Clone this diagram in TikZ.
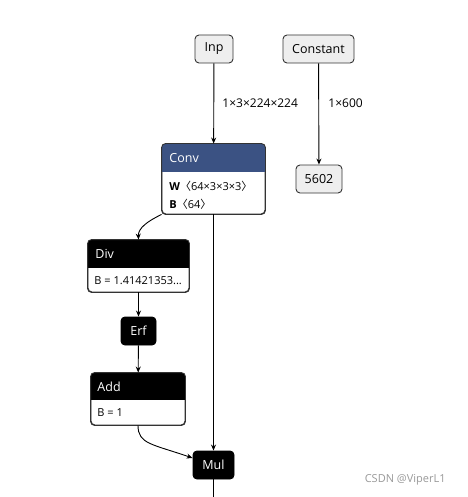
\documentclass[tikz,border=0pt]{standalone}
\usepackage{fontspec}
\setmainfont{Open Sans}
\newfontfamily\cjk{Noto Sans CJK SC}
\usetikzlibrary{arrows.meta}

\definecolor{convblue}{RGB}{59,82,131}
\definecolor{boxgray}{RGB}{238,238,238}

\begin{document}
\begin{tikzpicture}[x=1pt,y=-1pt,
  line width=0.9pt,
  edge/.style={-{Stealth[length=6pt,width=5pt,inset=2pt]}},
  plain/.style={draw=black!80, fill=boxgray, rounded corners=4pt, minimum height=28pt, inner sep=0pt, font=\fontsize{12.5}{14}\selectfont},
  blackbox/.style={draw=black, fill=black, text=white, rounded corners=4pt, minimum height=28pt, inner sep=0pt, font=\fontsize{12.5}{14}\selectfont},
  frame/.style={draw=black!80, fill=white, rounded corners=4pt, inner sep=0pt},
  head/.style={anchor=west, text=white, inner sep=0pt, font=\fontsize{12.5}{14}\selectfont},
  attr/.style={anchor=west, inner sep=0pt, font=\fontsize{11}{12}\selectfont},
  dims/.style={anchor=west, inner sep=0pt, font=\fontsize{12}{13}\selectfont}]
\useasboundingbox (0,0) rectangle (467,497);

% inputs
\node[plain, minimum width=38pt] (inp) at (214,49) {Inp};
\node[plain, minimum width=71pt] (const) at (318.5,49) {Constant};
\node[plain, minimum width=46pt] (num) at (319,179) {5602};

% conv
\node[frame, minimum width=103pt, minimum height=70pt] (conv) at (213.5,179) {};
\begin{scope}
\clip[rounded corners=4pt] (conv.north west) rectangle (conv.south east);
\fill[convblue] (conv.north west) rectangle (265,172);
\end{scope}
\draw[black!80, rounded corners=4pt] (conv.north west) rectangle (conv.south east);
\node[head] (convname) at (169,158) {Conv};
\node[attr] (convw) at (169,186) {\textbf{W}{\cjk 〈}64×3×3×3{\cjk 〉}};
\node[attr] (convb) at (169,204) {\textbf{B}{\cjk 〈}64{\cjk 〉}};

% div
\node[frame, minimum width=101pt, minimum height=52pt] (div) at (138.5,266) {};
\begin{scope}
\clip[rounded corners=4pt] (div.north west) rectangle (div.south east);
\fill[black] (div.north west) rectangle (189,268);
\end{scope}
\draw[black!80, rounded corners=4pt] (div.north west) rectangle (div.south east);
\node[head] (divname) at (95,254) {Div};
\node[attr] (divb) at (94,281) {B = 1.41421353...};

\node[blackbox, minimum width=35pt] (erf) at (138.5,331) {Erf};

% add
\node[frame, minimum width=94pt, minimum height=52pt] (add) at (138,399) {};
\begin{scope}
\clip[rounded corners=4pt] (add.north west) rectangle (add.south east);
\fill[black] (add.north west) rectangle (185,400);
\end{scope}
\draw[black!80, rounded corners=4pt] (add.north west) rectangle (add.south east);
\node[head] (addname) at (97,387) {Add};
\node[attr] (addb) at (97,413) {B = 1};

\node[blackbox, minimum width=41pt] (mul) at (213.5,465) {Mul};
\coordinate (out) at (213.5,497);

% edges
\draw[edge] (inp) -- (conv);
\node[dims] (s1) at (222,103) {1×3×224×224};
\draw[edge] (const) -- (num);
\node[dims] (s2) at (328,103) {1×600};
\draw[edge] (conv.south west) .. controls (148,221) and (138,228) .. (div.north);
\draw[edge] (div) -- (erf);
\draw[edge] (erf) -- (add);
\draw[edge] (add.south) .. controls (138,444) and (152,444) .. ([yshift=7pt]mul.west);
\draw[edge] (conv) -- (mul);
\draw (mul) -- (out);

\node[text=black!40, font=\fontsize{11}{12}\selectfont, anchor=west] (mark) at (361,480) {CSDN @ViperL1};
\end{tikzpicture}
\end{document}
